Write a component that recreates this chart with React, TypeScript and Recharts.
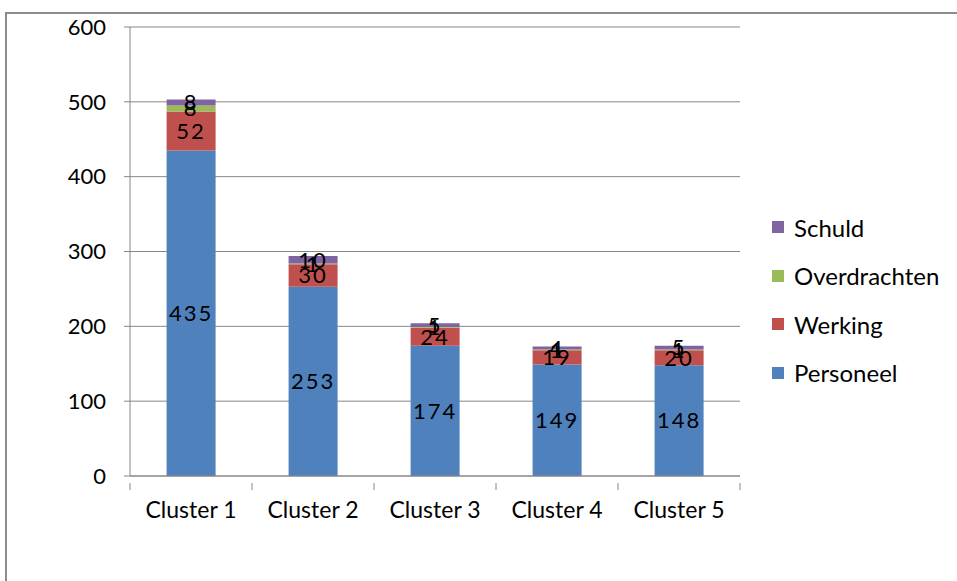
import React from 'react';
import { BarChart, Bar, XAxis, YAxis, CartesianGrid, LabelList } from 'recharts';

const clusters = ['Cluster 1', 'Cluster 2', 'Cluster 3', 'Cluster 4', 'Cluster 5'];
const personeel = [435, 253, 174, 149, 148];
const werking = [52, 30, 24, 19, 20];
const overdrachten = [8, 1, 1, 1, 1];
const schuld = [8, 10, 5, 4, 5];
const yTicks = [0, 100, 200, 300, 400, 500, 600];

const series = [
  { key: 'Personeel', color: '#4F81BD' },
  { key: 'Werking', color: '#C0504D' },
  { key: 'Overdrachten', color: '#9BBB59' },
  { key: 'Schuld', color: '#8064A2' },
];

const data = clusters.map((name, i) => ({
  name,
  Personeel: personeel[i],
  Werking: werking[i],
  Overdrachten: overdrachten[i],
  Schuld: schuld[i],
}));

const FONT = 'Lato, "Open Sans", sans-serif';
const AXIS = '#868686';

const ClusterTick = (props: any) => {
  const { x, y, payload, index, visibleTicksCount } = props;
  const half = payload.offset || 0;
  return (
    <g>
      <line x1={x - half} y1={y - 1} x2={x - half} y2={y + 6} stroke={AXIS} />
      {index === visibleTicksCount - 1 && (
        <line x1={x + half} y1={y - 1} x2={x + half} y2={y + 6} stroke={AXIS} />
      )}
      <text x={x} y={y + 34} textAnchor="middle" fill="#000" fontSize={23} fontFamily={FONT}>
        {payload.value}
      </text>
    </g>
  );
};

const LegendBox = () => (
  <div style={{ position: 'absolute', left: 772, top: 203, fontFamily: FONT, fontSize: 24, color: '#000' }}>
    {[...series].reverse().map((s) => (
      <div key={s.key} style={{ display: 'flex', alignItems: 'center', height: 48.5 }}>
        <span style={{ width: 12, height: 12, background: s.color, marginRight: 10, display: 'inline-block' }} />
        <span>{s.key}</span>
      </div>
    ))}
  </div>
);

export default function App() {
  return (
    <div style={{ position: 'absolute', left: 0, top: 0, width: 957, height: 581, overflow: 'hidden', background: '#fff' }}>
      <div
        style={{
          position: 'absolute',
          left: 5,
          top: 12,
          width: 1000,
          height: 700,
          border: '2px solid #8c8c8c',
          boxSizing: 'border-box',
        }}
      />
      <div style={{ position: 'absolute', left: 0, top: 0 }}>
        <BarChart
          width={957}
          height={581}
          data={data}
          margin={{ top: 27, right: 217, bottom: 0, left: 0 }}
          barCategoryGap="30%"
        >
          <CartesianGrid vertical={false} stroke={AXIS} strokeWidth={1} />
          <XAxis
            dataKey="name"
            axisLine={{ stroke: AXIS }}
            tickLine={false}
            tick={<ClusterTick />}
            height={105}
            interval={0}
          />
          <YAxis
            width={130}
            domain={[0, 600]}
            ticks={yTicks}
            interval={0}
            axisLine={{ stroke: AXIS }}
            tickLine={{ stroke: AXIS }}
            tickSize={6}
            tickMargin={18}
            tick={{ fill: '#000', fontSize: 22, fontFamily: FONT }}
          />
          {series.map((s) => (
            <Bar key={s.key} dataKey={s.key} stackId="a" fill={s.color} isAnimationActive={false}>
              <LabelList
                dataKey={s.key}
                position="center"
                fill="#000"
                fontSize={22}
                fontFamily={FONT}
                letterSpacing={2}
              />
            </Bar>
          ))}
        </BarChart>
      </div>
      <LegendBox />
    </div>
  );
}
